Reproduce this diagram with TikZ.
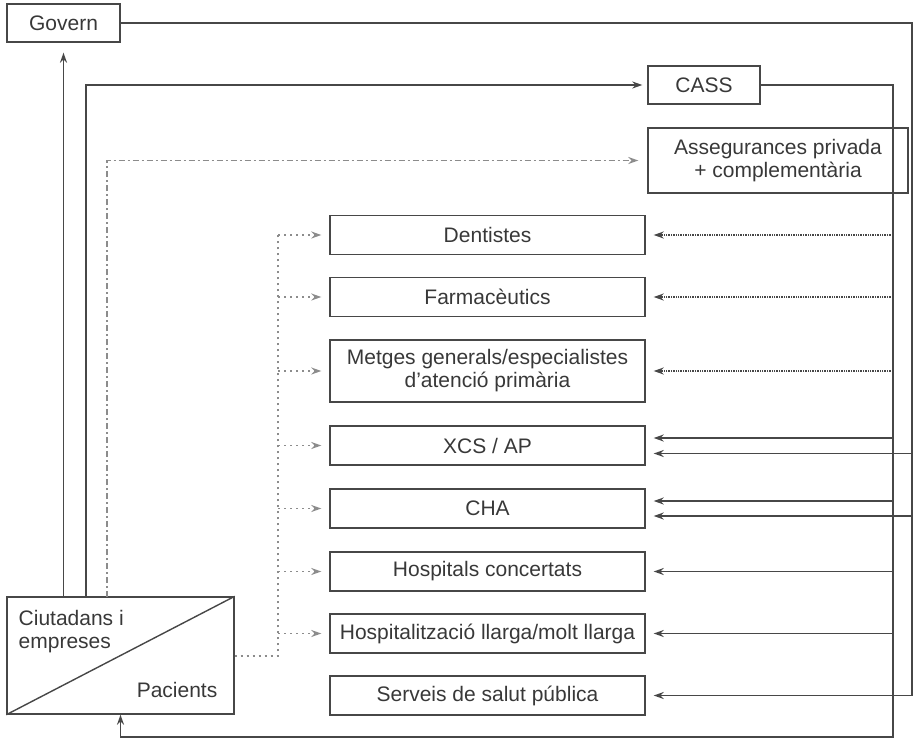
\documentclass[tikz,border=0pt]{standalone}
\usepackage{fontspec}
\setmainfont{Liberation Sans}
\usetikzlibrary{arrows.meta}

\begin{document}
\begin{tikzpicture}[x=1pt,y=-1pt,line width=1.4pt,black!72,text=black!78,
    font=\fontsize{21}{23}\selectfont,
    >={Stealth[length=10pt,width=7pt]}]

        \useasboundingbox (0,0) rectangle (915,739);

        \begin{scope}[every node/.style={draw,inner sep=0pt,align=center,minimum height=38pt}]
          \node[minimum width=113pt] (gov)  at (63.5,23) {Govern};
          \node[minimum width=112pt] (cass) at (704,85)  {CASS};
          \node[minimum width=260pt,minimum height=65pt] (aseg) at (778,160.5) {Assegurances privada\\+ complementària};
        \end{scope}

        \begin{scope}[every node/.style={draw,inner sep=0pt,align=center,minimum width=315pt,minimum height=39pt}]
          \node (dent)   at (487.5,235)   {Dentistes};
          \node (farm)   at (487.5,297)   {Farmacèutics};
          \node[minimum height=62pt] (metg) at (487.5,371) {Metges generals/especialistes\\d'atenció primària};
          \node (xcs)    at (487.5,445.5) {XCS / AP};
          \node (cha)    at (487.5,508.5) {CHA};
          \node (hosp)   at (487.5,571.5) {Hospitals concertats};
          \node (llarga) at (487.5,633.5) {Hospitalització llarga/molt llarga};
          \node (serv)   at (487.5,695.5) {Serveis de salut pública};
        \end{scope}

        \node[draw,minimum width=227pt,minimum height=117pt,inner sep=0pt] (ciut) at (120.5,655.5) {};
        \draw (ciut.south west) -- (ciut.north east);
        \node[anchor=north west,align=left,inner sep=0pt] (ciutt) at (18,610) {Ciutadans i\\empreses};
        \node[anchor=base east,inner sep=0pt] (pac) at (218,697) {Pacients};

        \coordinate (cA)  at (86,597);
        \coordinate (cB)  at (107,597);
        \coordinate (lft) at (278,656);
        \coordinate (rgo) at (912,0);
        \coordinate (rca) at (893,737);

        \draw[->,shorten >=10pt] (gov.south |- ciut.north) -- (gov.south);
        \draw[->,shorten >=5pt] (cA) |- (cass.west);
        \draw[->,shorten >=9pt,black!45,dash pattern=on 6pt off 3pt on 2pt off 3pt] (cB) |- (aseg.west);

        \begin{scope}[black!45,dash pattern=on 2pt off 4pt]
          \draw (ciut.east |- lft) -- (lft) -- (lft |- dent.west);
          \foreach \n in {dent,farm,metg,xcs,cha,hosp,llarga}
            \draw[->,shorten >=8pt] (lft |- \n.west) -- (\n.west);
        \end{scope}

        \draw[->,shorten >=8pt] (gov.east) -| (rgo |- serv.east) -- (serv.east);
        \draw[->,shorten >=8pt] ([yshift=-8pt]xcs.east -| rgo) -- ([yshift=-8pt]xcs.east);
        \draw[->,shorten >=8pt] ([yshift=-7.5pt]cha.east -| rgo) -- ([yshift=-7.5pt]cha.east);

        \draw[->] (cass.east) -| (rca) -| (ciut.south);
        \foreach \n in {dent,farm,metg}
          \draw[->,shorten >=8pt,densely dotted] (rca |- \n.east) -- (\n.east);
        \draw[->,shorten >=8pt] ([yshift=7.5pt]xcs.east -| rca) -- ([yshift=7.5pt]xcs.east);
        \draw[->,shorten >=8pt] ([yshift=7.5pt]cha.east -| rca) -- ([yshift=7.5pt]cha.east);
        \foreach \n in {hosp,llarga}
          \draw[->,shorten >=8pt] (rca |- \n.east) -- (\n.east);

\end{tikzpicture}
\end{document}
